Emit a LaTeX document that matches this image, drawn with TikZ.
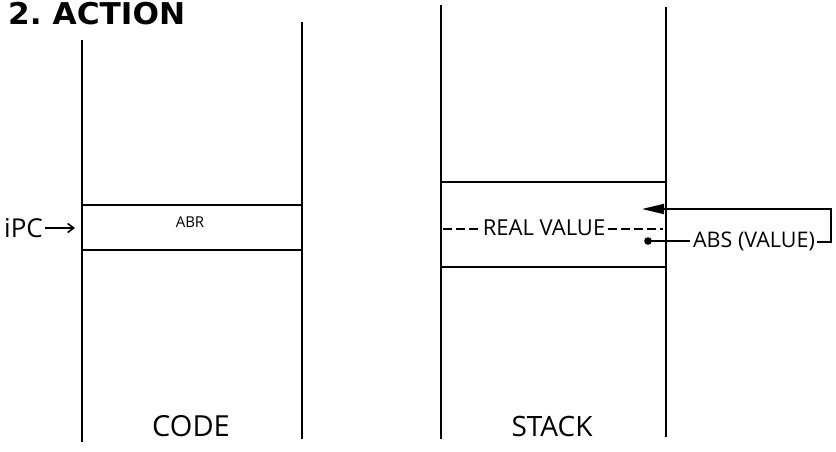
\documentclass[tikz,border=0pt]{standalone}
\usepackage{fontspec}
\setmainfont{Open Sans}
\newfontfamily\titlefont{DejaVu Sans}
\usetikzlibrary{arrows.meta}
\begin{document}
\begin{tikzpicture}[x=1pt,y=-1pt,
  wall/.style={line width=2pt},
  slot/.style={line width=2pt},
  lbl/.style={inner sep=0pt,anchor=center},
  dashline/.style={line width=1.6pt,dash pattern=on 9pt off 4pt}]
\useasboundingbox (0,0) rectangle (836,451);
% title
\node[lbl,anchor=base west,font=\titlefont\fontsize{30}{30}\selectfont\bfseries,xscale=1.04,transform shape] (title) at (8,24) {2.\ ACTION};
% code column
\coordinate (cl1) at (82,40); \coordinate (cl2) at (82,442);
\coordinate (cr1) at (302,22); \coordinate (cr2) at (302,439);
\draw[wall] (cl1) -- (cl2);
\draw[wall] (cr1) -- (cr2);
\coordinate (cbt1) at (82,205); \coordinate (cbt2) at (302,205);
\coordinate (cbb1) at (82,250); \coordinate (cbb2) at (302,250);
\draw[slot] (cbt1) -- (cbt2);
\draw[slot] (cbb1) -- (cbb2);
\node[lbl,font=\fontsize{15}{15}\selectfont] (abr) at (190,222) {ABR};
\node[lbl,anchor=west,font=\fontsize{26}{26}\selectfont] (ipc) at (4,228) {iPC};
\coordinate (ipctip) at (75,228);
\draw[line width=1.6pt,-{Straight Barb[length=6pt,width=9pt]}] (ipc.east) ++(2,0) -- (ipctip);
\node[lbl,font=\fontsize{29}{29}\selectfont] (code) at (191,426) {CODE};
% stack column
\coordinate (sl1) at (441,5); \coordinate (sl2) at (441,439);
\coordinate (sr1) at (666,7); \coordinate (sr2) at (666,437);
\draw[wall] (sl1) -- (sl2);
\draw[wall] (sr1) -- (sr2);
\coordinate (sbt1) at (441,182); \coordinate (sbt2) at (666,182);
\coordinate (sbb1) at (441,267); \coordinate (sbb2) at (666,267);
\draw[slot] (sbt1) -- (sbt2);
\draw[slot] (sbb1) -- (sbb2);
\node[lbl,font=\fontsize{22}{22}\selectfont] (real) at (544,228) {REAL VALUE};
\coordinate (rd1) at (443,229); \coordinate (rd2) at (663,229);
\draw[dashline] (rd1) -- ([xshift=-3pt]real.west |- rd1);
\draw[dashline] ([xshift=3pt]real.east |- rd2) -- (rd2);
\node[lbl,font=\fontsize{21.5}{21.5}\selectfont] (abs) at (754,241) {ABS (VALUE)};
\coordinate (ret1) at (831,242);
\coordinate (ret2) at (831,209);
\coordinate (rettip) at (642,209);
\draw[line width=1.8pt,-{Triangle[length=22pt,width=10pt]}] ([xshift=2pt]abs.east |- ret1) -- (ret1) -- (ret2) -- (rettip);
\coordinate (dot) at (648,241);
\fill (dot) circle (3.8pt);
\draw[line width=1.8pt] (dot) -- ([xshift=-3pt]abs.west |- dot);
\node[lbl,font=\fontsize{28}{28}\selectfont] (stack) at (552,426) {STACK};
\end{tikzpicture}
\end{document}
